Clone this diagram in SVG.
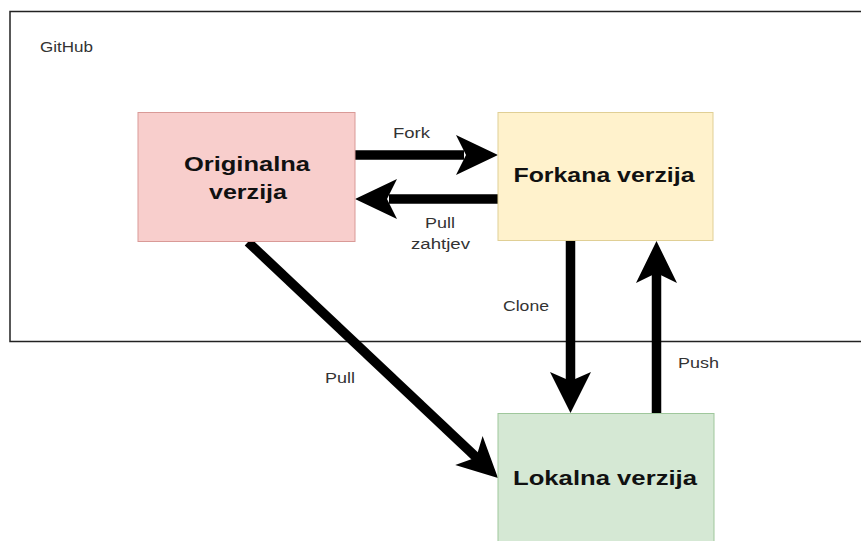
<svg xmlns="http://www.w3.org/2000/svg" width="861" height="541" viewBox="0 0 861 541">
<style>
.container{fill:#fff;stroke:#222;stroke-width:1.5}
.node-text{font-family:"Liberation Sans",Arial,sans-serif;font-weight:bold;font-size:21px;fill:#111;text-anchor:middle}
.lbl{font-family:"Liberation Sans",Arial,sans-serif;font-size:14px;fill:#333;text-anchor:middle}
.shaft{stroke:#000;stroke-width:9.5;fill:none}
.head{fill:#000;stroke:none}
</style>
<rect width="861" height="541" fill="#fff"/>
<g id="github">
<rect class="container" x="10" y="11.5" width="900" height="330"/>
<text class="lbl" x="66.5" y="52" textLength="53" lengthAdjust="spacingAndGlyphs">GitHub</text>
</g>
<g id="connectors">
<g id="fork">
<line class="shaft" x1="355" y1="155" x2="464" y2="155"/>
<polygon class="head" points="498,155 456,135 466,155 456,175"/>
<text class="lbl" x="411.5" y="138" textLength="37" lengthAdjust="spacingAndGlyphs">Fork</text>
</g>
<g id="pull-request">
<line class="shaft" x1="498" y1="199" x2="389" y2="199"/>
<polygon class="head" points="355,199 397,179 387,199 397,219"/>
<text class="lbl" x="440" y="228" textLength="30" lengthAdjust="spacingAndGlyphs">Pull</text>
<text class="lbl" x="440.5" y="249" textLength="59" lengthAdjust="spacingAndGlyphs">zahtjev</text>
</g>
<g id="clone">
<line class="shaft" x1="570.5" y1="241" x2="570.5" y2="383"/>
<polygon class="head" points="570.5,413 550,372 570.5,381 591,372"/>
<text class="lbl" x="526" y="311" textLength="46" lengthAdjust="spacingAndGlyphs">Clone</text>
</g>
<g id="push">
<line class="shaft" x1="656.5" y1="413" x2="656.5" y2="271"/>
<polygon class="head" points="656.5,241 636,283 656.5,273 677,283"/>
<text class="lbl" x="698.5" y="368" textLength="41" lengthAdjust="spacingAndGlyphs">Push</text>
</g>
<g id="pull">
<line class="shaft" x1="248" y1="242" x2="478" y2="459"/>
<polygon class="head" points="498,478 455.2,465 476.2,457.4 482.6,436"/>
<text class="lbl" x="340" y="383" textLength="30" lengthAdjust="spacingAndGlyphs">Pull</text>
</g>
</g>
<g id="originalna">
<rect x="138" y="112.5" width="217" height="129" fill="#f8cecc" stroke="#d99a97" stroke-width="1"/>
<text class="node-text" x="247" y="171" textLength="126" lengthAdjust="spacingAndGlyphs">Originalna</text>
<text class="node-text" x="248" y="199" textLength="78" lengthAdjust="spacingAndGlyphs">verzija</text>
</g>
<g id="forkana">
<rect x="498" y="112.5" width="215" height="128" fill="#fff2cc" stroke="#e0cf95" stroke-width="1"/>
<text class="node-text" x="604" y="182" textLength="181" lengthAdjust="spacingAndGlyphs">Forkana verzija</text>
</g>
<g id="lokalna">
<rect x="498" y="413.5" width="216" height="140" fill="#d5e8d4" stroke="#9fc79c" stroke-width="1"/>
<text class="node-text" x="605" y="485" textLength="184" lengthAdjust="spacingAndGlyphs">Lokalna verzija</text>
</g>
</svg>
